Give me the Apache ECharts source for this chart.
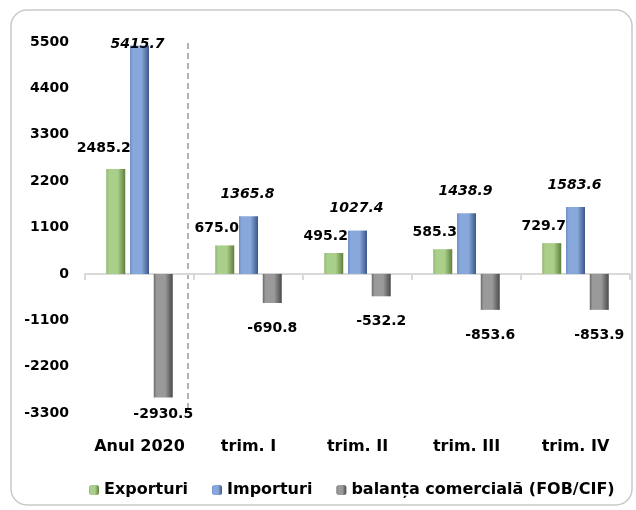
<!DOCTYPE html>
<html>
<head>
<meta charset="utf-8">
<script src="https://cdn.jsdelivr.net/npm/echarts@6/dist/echarts.min.js"></script>
<style>
html,body{margin:0;padding:0;background:#fff;}
#chart{width:636px;height:510px;}
</style>
</head>
<body>
<div id="chart"></div>
<script>
var categories = ['Anul 2020', 'trim. I', 'trim. II', 'trim. III', 'trim. IV'];
var exporturi = [2485.2, 675.0, 495.2, 585.3, 729.7];
var importuri = [5415.7, 1365.8, 1027.4, 1438.9, 1583.6];
var balanta = [-2930.5, -690.8, -532.2, -853.6, -853.9];
var seriesNames = ['Exporturi', 'Importuri', 'balanța comercială (FOB/CIF)'];
var yMin = -3300, yMax = 5500, yStep = 1100;

var FONT = 'DejaVu Sans';

function grad(edgeL, mid, edgeR) {
  return new echarts.graphic.LinearGradient(0, 0, 1, 0, [
    {offset: 0, color: edgeL},
    {offset: 0.15, color: mid},
    {offset: 0.6, color: mid},
    {offset: 1, color: edgeR}
  ]);
}

var chart = echarts.init(document.getElementById('chart'), null, {renderer: 'canvas'});

var importData = importuri.map(function (v, i) {
  if (i === 0) {
    return {value: v, label: {position: 'insideTop', distance: -8, offset: [-2, 0]}};
  }
  return v;
});
var exportData = exporturi.map(function (v, i) {
  if (i === 0) {
    return {value: v, label: {offset: [-12, -4]}};
  }
  return v;
});
var balantaData = balanta.map(function (v, i) {
  if (i === 0) {
    return {value: v, label: {distance: 10}};
  }
  return v;
});

var labelFmt = function (p) { return p.value.toFixed(1); };

var option = {
  animation: false,
  backgroundColor: '#fff',
  grid: {left: 85, right: 6, top: 42, bottom: 97, containLabel: false},
  legend: {
    bottom: 7,
    left: 84,
    itemWidth: 10,
    itemHeight: 10,
    itemGap: 24,
    textStyle: {fontFamily: FONT, fontWeight: 'bold', fontSize: 16, color: '#000'},
    data: seriesNames
  },
  xAxis: [{
    type: 'category',
    data: categories,
    axisLine: {onZero: true, lineStyle: {color: '#d9d9d9', width: 2}},
    axisTick: {show: true, length: 6, lineStyle: {color: '#d9d9d9', width: 2}},
    axisLabel: {show: false}
  }, {
    type: 'category',
    data: categories,
    position: 'bottom',
    axisLine: {show: false, onZero: false},
    axisTick: {show: false},
    axisLabel: {interval: 0, margin: 26, fontFamily: FONT, fontWeight: 'bold', fontSize: 16, color: '#000'}
  }],
  yAxis: {
    type: 'value',
    min: yMin,
    max: yMax,
    interval: yStep,
    splitLine: {show: false},
    axisLine: {show: false},
    axisTick: {show: false},
    axisLabel: {margin: 16, fontFamily: FONT, fontWeight: 'bold', fontSize: 14, color: '#000',
      formatter: function (v) { return String(v); }}
  },
  series: [{
    name: seriesNames[0],
    type: 'bar',
    data: exportData,
    barWidth: 19,
    barGap: '25%',
    itemStyle: {color: grad('#8fb86a', '#a9cf8a', '#5f7f3c')},
    label: {show: true, position: 'top', distance: 10, offset: [-8, 0],
      formatter: labelFmt,
      fontFamily: FONT, fontWeight: 'bold', fontSize: 14, color: '#000'}
  }, {
    name: seriesNames[1],
    type: 'bar',
    data: importData,
    barWidth: 19,
    barGap: '25%',
    itemStyle: {color: grad('#6d8fc7', '#88a8dc', '#3c5688')},
    label: {show: true, position: 'top', distance: 15, offset: [-1, 0],
      formatter: labelFmt,
      fontFamily: FONT, fontWeight: 'bold', fontStyle: 'italic', fontSize: 14, color: '#000'}
  }, {
    name: seriesNames[2],
    type: 'bar',
    data: balantaData,
    barWidth: 19,
    barGap: '25%',
    itemStyle: {color: grad('#6a6a6a', '#9a9a9a', '#4a4a4a')},
    label: {show: true, position: 'bottom', distance: 18, offset: [0, 0],
      formatter: labelFmt,
      fontFamily: FONT, fontWeight: 'bold', fontSize: 14, color: '#000'}
  }],
  graphic: [{
    type: 'rect',
    shape: {x: 11, y: 10, width: 621, height: 495, r: 16},
    style: {fill: 'none', stroke: '#c9c9c9', lineWidth: 1.5},
    silent: true, z: -1
  }, {
    type: 'line',
    shape: {x1: 188, y1: 43, x2: 188, y2: 412},
    style: {stroke: '#7f7f7f', lineWidth: 1.2, lineDash: [6, 4]},
    silent: true
  }]
};
chart.setOption(option);
</script>
</body>
</html>
